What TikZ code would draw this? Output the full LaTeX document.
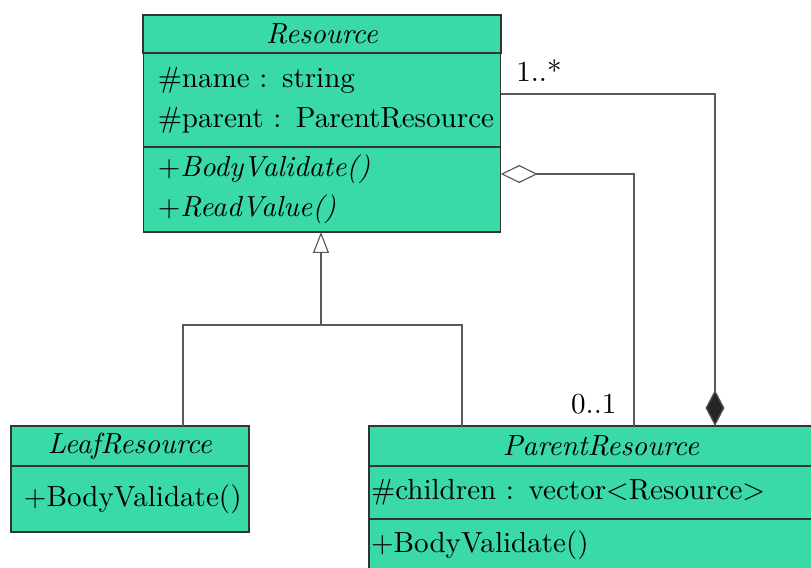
\documentclass[tikz,border=0pt]{standalone}
\usepackage{tikz}
\usetikzlibrary{arrows.meta,positioning,calc}
\definecolor{umlgreen}{RGB}{58,217,168}
\def\u{0.344pt}
\tikzset{
  compart/.style={draw=black!80, fill=umlgreen, inner ysep=0pt, outer sep=0pt,
    line width=0.4pt, align=left, font=\fontsize{10pt}{13.9pt}\selectfont},
  assoc/.style={draw=black!65, line width=0.4pt},
  inherit/.style={assoc, {Triangle[open, length=7.2pt, width=5.5pt]}-},
  aggreg/.style={assoc, {Diamond[open, length=12.7pt, width=6.2pt]}-},
  compose/.style={assoc, {Diamond[length=12.4pt, width=6.5pt, fill=black!85]}-},
  mult/.style={inner sep=0pt},
}

\begin{document}
\begin{tikzpicture}[x=\u, y=-\u,
    restitle/.style={compart, minimum width=358*\u, inner xsep=0pt},
    respart/.style={compart, text width=113pt, inner xsep=5pt},
    leafpart/.style={compart, text width=73pt, inner xsep=4.45pt},
    parpart/.style={compart, text width=158.2pt, inner xsep=0.7pt}]
  \path[use as bounding box, clip] (0,0) rectangle (811,567);

  % Resource
  \node[restitle, minimum height=38*\u] (restitle) at (322,34) {\textit{Resource}};
  \node[respart, minimum height=94*\u, below=0pt of restitle] (resattr)
    {\mbox{\#name : string}\\ \mbox{\#parent : ParentResource}};
  \node[respart, minimum height=85*\u, below=0pt of resattr] (resops)
    {\mbox{$+$\textit{BodyValidate()}}\\ \mbox{$+$\textit{ReadValue()}}};

  % LeafResource
  \node[compart, minimum width=238*\u, minimum height=40*\u, inner xsep=0pt] (leaftitle)
    at (130,446) {\textit{LeafResource}};
  \node[leafpart, minimum height=66*\u, below=0pt of leaftitle] (leafops)
    {\mbox{$+$BodyValidate()}};

  % ParentResource
  \node[compart, minimum width=464*\u, minimum height=40*\u, inner xsep=0pt] (partitle)
    at (601,446) {\textit{ParentResource}};
  \node[parpart, minimum height=53*\u, below=0pt of partitle] (parattr)
    {\#children : vector$<$Resource$>$};
  \node[parpart, minimum height=52*\u, below=0pt of parattr] (parops)
    {$+$BodyValidate()};

  \coordinate (fork) at (321,325);
  \coordinate (aggx) at (634,174);
  \coordinate (compx) at (715,94);

  \draw[inherit] (resops.south -| fork) -- (fork);
  \draw[assoc] (fork) -| ([xshift=53*\u]leaftitle.north);
  \draw[assoc] (fork) -| ([xshift=-139*\u]partitle.north);

  \draw[aggreg] (resops.east |- aggx) -| (partitle.north -| aggx);
  \draw[compose] (partitle.north -| compx) |- (resattr.east |- compx);

  \node[mult, anchor=base west] (many) at ([shift={(15,-13)}]resattr.east |- compx) {1..*};
  \node[mult, anchor=base east] (opt) at ([shift={(-17,-13)}]partitle.north -| aggx) {0..1};
\end{tikzpicture}
\end{document}
